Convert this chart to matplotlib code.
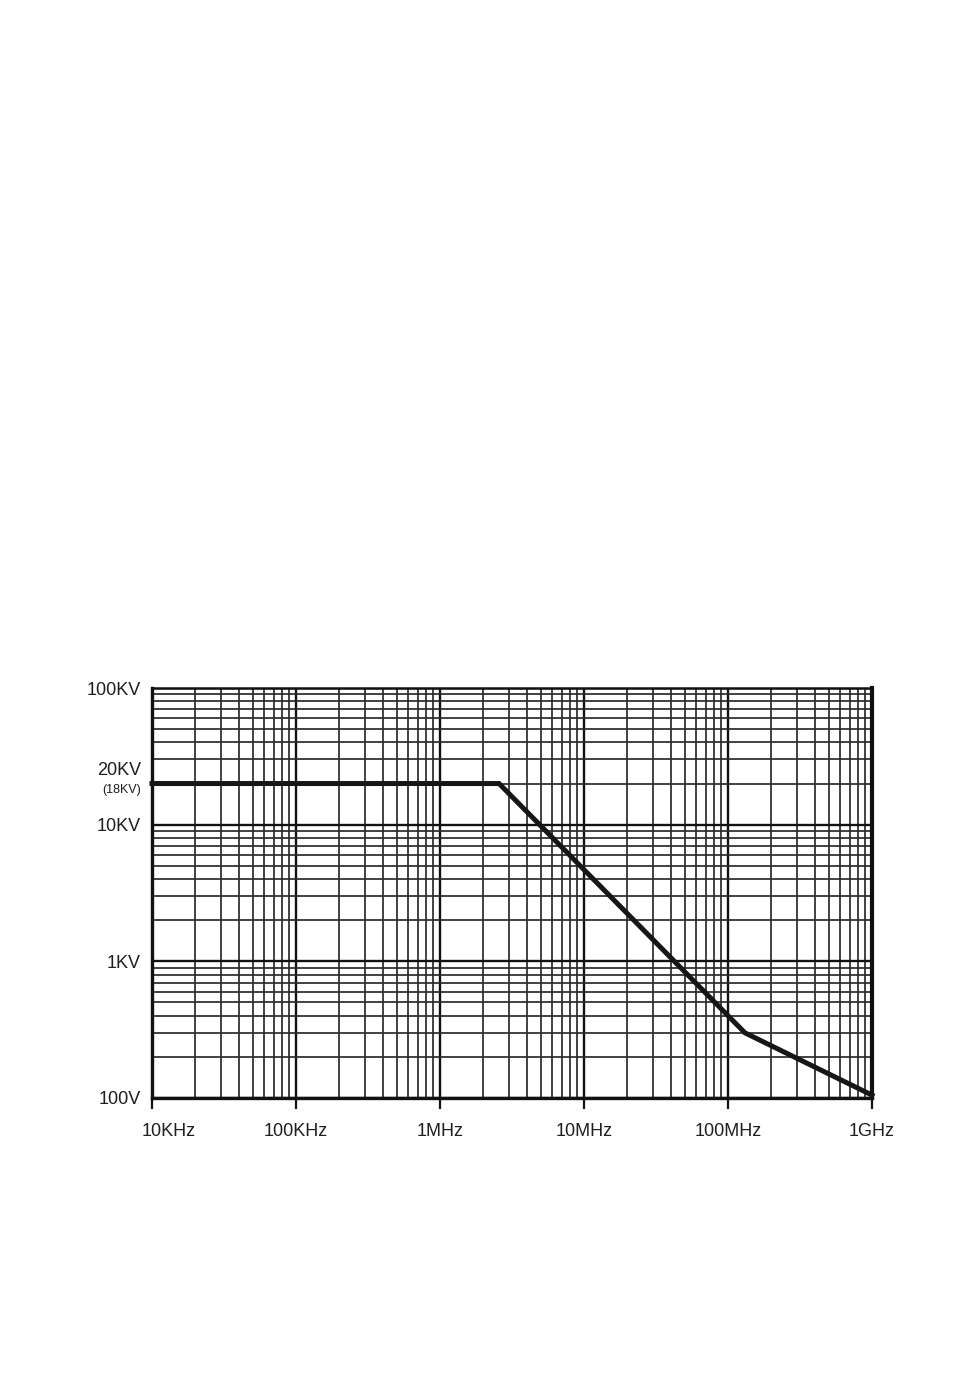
import numpy as np
import matplotlib
matplotlib.use("Agg")
import matplotlib.pyplot as plt
import matplotlib.transforms as mtransforms
from matplotlib.ticker import LogLocator, NullFormatter

# curve: frequency (Hz) vs. voltage (V)
freq_hz = [1e4, 2.57e6, 1.31e8, 1e9]
volt_v = [20000, 20000, 300, 105]

x_ticks = [1e4, 1e5, 1e6, 1e7, 1e8, 1e9]
x_labels = ["10KHz", "100KHz", "1MHz", "10MHz", "100MHz", "1GHz"]
y_ticks = [100, 1000, 10000, 100000]
y_labels = ["100V", "1KV", "10KV", "100KV"]
mark_value = 20000
mark_label = "20KV"
mark_note = "(18KV)"

plt.rcParams["font.family"] = ["Liberation Sans", "DejaVu Sans"]

fig = plt.figure(figsize=(9.54, 13.84), dpi=100)
ax = fig.add_axes([152 / 954, 286 / 1384, 720 / 954, 410 / 1384])

ax.set_xscale("log")
ax.set_yscale("log")
ax.set_xlim(1e4, 1e9)
ax.set_ylim(100, 100000)

# grid
ax.xaxis.set_minor_locator(LogLocator(base=10, subs=np.arange(2, 10)))
ax.yaxis.set_minor_locator(LogLocator(base=10, subs=np.arange(2, 10)))
ax.xaxis.set_minor_formatter(NullFormatter())
ax.yaxis.set_minor_formatter(NullFormatter())
ax.grid(True, which="major", color="#111111", lw=1.7)
ax.grid(True, which="minor", color="#2a2a2a", lw=1.25)
ax.set_axisbelow(True)

ax.plot(freq_hz, volt_v, color="#161616", lw=3.6, solid_joinstyle="miter",
        zorder=5, clip_on=False)

txt_col = "#1e1e1e"
ax.set_xticks(x_ticks)
ax.set_xticklabels(x_labels, fontsize=13, color=txt_col)
ax.set_yticks(y_ticks)
ax.set_yticklabels(y_labels, fontsize=13, color=txt_col)
ax.tick_params(axis="x", which="major", direction="out", length=8, width=1.6,
               pad=10, color="#111111")
ax.tick_params(axis="y", which="major", length=0, pad=8)
ax.tick_params(which="minor", length=0)

# first x label sits a bit to the right of its tick
first = ax.get_xticklabels()[0]
first.set_transform(first.get_transform() +
                    mtransforms.ScaledTranslation(17 / 100, 0, fig.dpi_scale_trans))

ax.annotate(mark_label, xy=(0, mark_value), xycoords=("axes fraction", "data"),
            xytext=(-8, 3.5), textcoords="offset points", ha="right",
            va="bottom", fontsize=13, color=txt_col)
ax.annotate(mark_note, xy=(0, mark_value), xycoords=("axes fraction", "data"),
            xytext=(-8, -0.5), textcoords="offset points", ha="right",
            va="top", fontsize=9, color=txt_col)

for side, w in {"left": 2.4, "bottom": 2.4, "right": 3.0, "top": 1.8}.items():
    ax.spines[side].set_linewidth(w)
    ax.spines[side].set_color("#111111")

fig.savefig("out.png", dpi=100)
